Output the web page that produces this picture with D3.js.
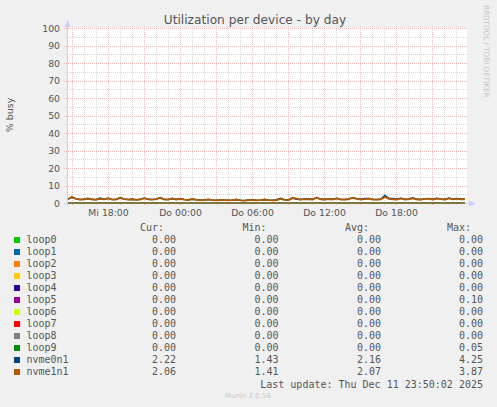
<!DOCTYPE html>
<html>
<head>
<meta charset="utf-8">
<script src="https://cdn.jsdelivr.net/npm/d3@7"></script>
<style>
html,body{margin:0;padding:0;background:#f0f0f0;}
svg{display:block;}
</style>
</head>
<body>
<svg id="chart" width="497" height="407"></svg>
<script>
// ---------- data ----------
const title = "Utilization per device - by day";
const yLabel = "% busy";
const seriesNames = ["loop0","loop1","loop2","loop3","loop4","loop5","loop6","loop7","loop8","loop9","nvme0n1","nvme1n1"];
const seriesColors = ["#00CC00","#0066B3","#FF8000","#FFCC00","#330099","#990099","#CCFF00","#FF0000","#808080","#008F00","#00487D","#B35A00"];
const loop0 = [0,0,0,0,0];
const loop1 = [0,0,0,0,0];
const loop2 = [0,0,0,0,0];
const loop3 = [0,0,0,0,0];
const loop4 = [0,0,0,0,0];
const loop5 = [0,0,0.1,0,0];
const loop6 = [0,0,0,0,0];
const loop7 = [0,0,0,0,0];
const loop8 = [0,0,0,0,0];
const loop9 = [0,0.05,0,0,0];
const nvme0n1 = [
 2.3,3.2,2.4,2.0,2.2,2.5,2.1,1.9,2.8,2.2,
 2.6,2.0,2.1,2.9,2.3,2.0,2.2,1.9,2.1,2.7,
 2.2,2.0,2.3,2.9,2.1,2.0,2.5,2.1,2.6,2.0,
 1.8,2.2,1.9,1.7,1.8,2.0,1.7,1.6,1.8,1.7,
 1.6,1.7,1.9,1.6,1.43,1.7,1.8,1.6,1.7,1.9,
 1.7,1.6,1.8,2.6,1.9,1.8,2.7,2.2,2.0,2.4,
 2.3,2.2,3.0,2.2,2.1,2.3,2.2,2.6,2.1,2.0,
 2.3,2.9,2.4,2.2,2.5,2.6,2.1,2.0,2.2,4.25,
 2.6,2.5,2.2,2.7,2.1,2.3,2.9,2.2,2.0,2.4,
 2.6,2.2,2.7,2.3,2.1,2.8,2.2,2.5,2.3,2.22];
const nvme1n1 = [
 2.2,3.6,2.3,1.9,2.1,2.6,2.0,1.9,2.3,2.1,
 2.7,1.9,2.0,3.0,2.2,1.9,2.1,1.8,2.0,2.8,
 2.1,1.9,2.2,3.0,2.0,1.9,2.6,2.0,2.4,1.9,
 1.7,2.3,1.8,1.6,1.7,2.1,1.6,1.5,1.7,1.6,
 1.5,1.6,2.0,1.5,1.41,1.6,1.7,1.5,1.6,2.0,
 1.6,1.5,1.7,2.3,1.8,1.7,3.0,2.5,1.9,2.2,
 2.1,2.0,3.1,2.1,2.0,2.2,2.0,2.8,2.0,1.9,
 2.2,3.0,2.3,2.0,2.2,2.5,2.0,1.9,2.1,3.4,
 2.4,2.1,2.0,2.6,2.0,2.2,2.7,2.0,1.9,2.3,
 2.4,2.0,2.5,2.2,2.0,2.6,2.1,2.3,2.1,2.06];
const seriesValues = [loop0,loop1,loop2,loop3,loop4,loop5,loop6,loop7,loop8,loop9,nvme0n1,nvme1n1];
const curVals = ["0.00","0.00","0.00","0.00","0.00","0.00","0.00","0.00","0.00","0.00","2.22","2.06"];
const minVals = ["0.00","0.00","0.00","0.00","0.00","0.00","0.00","0.00","0.00","0.00","1.43","1.41"];
const avgVals = ["0.00","0.00","0.00","0.00","0.00","0.00","0.00","0.00","0.00","0.00","2.16","2.07"];
const maxVals = ["0.00","0.00","0.00","0.00","0.00","0.10","0.00","0.00","0.00","0.05","4.25","3.87"];
const statHeaders = ["Cur:","Min:","Avg:","Max:"];
const xTickLabels = ["Mi 18:00","Do 00:00","Do 06:00","Do 12:00","Do 18:00"];
const yTickValues = [0,10,20,30,40,50,60,70,80,90,100];
const startTime = new Date(Date.UTC(2025,11,10,14,35));
const endTime = new Date(Date.UTC(2025,11,11,23,55));
const lastUpdate = "Last update: Thu Dec 11 23:50:02 2025";
const footer = "Munin 2.0.56";
const watermark = "RRDTOOL / TOBI OETIKER";

// ---------- drawing ----------
const svg = d3.select("#chart");
const L = 67, R = 467, T = 28, B = 203;
const x = d3.scaleUtc().domain([startTime, endTime]).range([L, R]);
const y = d3.scaleLinear().domain([0, 100]).range([B, T]);
const textCol = "#555";
const sans = "'DejaVu Sans', sans-serif";
const mono = "'DejaVu Sans Mono', monospace";
const minorCol = "#d4d4d4", majorCol = "#ebb8b8";

svg.append("rect").attr("width",497).attr("height",407).attr("fill","#f0f0f0");
svg.append("rect").attr("x",L).attr("y",T).attr("width",R-L).attr("height",B-T).attr("fill","#fff");

const grid = svg.append("g").attr("shape-rendering","crispEdges");
// minor horizontal (every 5)
d3.range(5,100,10).forEach(v=>{
  grid.append("line").attr("x1",L-2).attr("x2",R+1).attr("y1",Math.round(y(v))+0.5).attr("y2",Math.round(y(v))+0.5)
   .attr("stroke",minorCol).attr("stroke-dasharray","1,1");
});
// minor vertical (every hour)
x.ticks(d3.utcHour.every(1)).forEach(t=>{
  if (t.getUTCHours()%3===0) return;
  grid.append("line").attr("x1",Math.round(x(t))+0.5).attr("x2",Math.round(x(t))+0.5).attr("y1",T-2).attr("y2",B+2)
   .attr("stroke",minorCol).attr("stroke-dasharray","1,1");
});
// major vertical (every 3 hours)
x.ticks(d3.utcHour.every(3)).forEach(t=>{
  grid.append("line").attr("x1",Math.round(x(t))+0.5).attr("x2",Math.round(x(t))+0.5).attr("y1",T-2).attr("y2",B+3)
   .attr("stroke",majorCol).attr("stroke-dasharray","1,1");
});
// major horizontal (every 10)
yTickValues.forEach(v=>{
  if (v===0) return;
  grid.append("line").attr("x1",L-3).attr("x2",R+1).attr("y1",Math.round(y(v))+0.5).attr("y2",Math.round(y(v))+0.5)
   .attr("stroke",majorCol).attr("stroke-dasharray","1,1");
});

// y axis labels
const yAxis = d3.axisLeft(y).tickValues(yTickValues).tickSize(0).tickPadding(0).tickFormat(d3.format("d"));
const yg = svg.append("g").attr("transform",`translate(${L-7},0)`).call(yAxis);
yg.select(".domain").remove();
yg.selectAll("text").attr("fill",textCol).style("font-family",sans).style("font-size","9.3px").attr("dy","0.35em");

// x axis labels
const xTicks = x.ticks(d3.utcHour.every(6));
const xAxis = d3.axisBottom(x).tickValues(xTicks).tickSize(0).tickPadding(0).tickFormat((d,i)=>xTickLabels[i]);
const xg = svg.append("g").attr("transform",`translate(0,${B+10})`).call(xAxis);
xg.select(".domain").remove();
xg.selectAll("text").attr("fill",textCol).style("font-family",sans).style("font-size","9.3px").attr("dy","0.35em");

// axis lines and arrows
const axCol = "#ccccff";
svg.append("line").attr("x1",L+0.5).attr("x2",L+0.5).attr("y1",B+3).attr("y2",T-4).attr("stroke",axCol).attr("shape-rendering","crispEdges");
svg.append("line").attr("x1",L-3).attr("x2",R+4).attr("y1",B+0.5).attr("y2",B+0.5).attr("stroke",axCol).attr("shape-rendering","crispEdges");
svg.append("path").attr("d",`M${L-2.5},${T-1} L${L+3.5},${T-1} L${L+0.5},${T-8} Z`).attr("fill",axCol);
svg.append("path").attr("d",`M${R+2},${B-2.5} L${R+2},${B+3.5} L${R+9},${B+0.5} Z`).attr("fill",axCol);

// series lines
const plot = svg.append("g");
seriesValues.forEach((vals,i)=>{
  const t = d3.scaleLinear().domain([0, vals.length-1]).range([+startTime + 300000, +endTime - 600000]);
  const line = d3.line().x((d,j)=>x(new Date(t(j)))).y(d=>y(d));
  plot.append("path").datum(vals).attr("d",line).attr("fill","none")
    .attr("stroke",seriesColors[i]).attr("stroke-width", i===11 ? 1.8 : (i===10 ? 1.6 : 1))
    .attr("stroke-opacity", i>=10 ? 1 : 0.5);
});

// title
svg.append("text").attr("x",255).attr("y",24).attr("text-anchor","middle").attr("fill",textCol)
  .style("font-family",sans).style("font-size","12.2px").text(title);
// y label
svg.append("text").attr("transform","translate(13,115) rotate(-90)").attr("text-anchor","middle").attr("fill",textCol)
  .style("font-family",sans).style("font-size","9.5px").text(yLabel);
// watermark
svg.append("text").attr("transform","translate(484,5) rotate(90)").attr("text-anchor","start").attr("fill","#c4c4c4")
  .style("font-family",sans).style("font-size","7.2px").text(watermark);

// legend
const lg = svg.append("g").style("font-family",mono).style("font-size","10px").attr("fill",textCol);
const colRight = [176, 278.5, 381, 483];
statHeaders.forEach((h,k)=>{
  lg.append("text").attr("x",colRight[k]-12).attr("y",231).attr("text-anchor","end").text(h);
});
const stats = [curVals,minVals,avgVals,maxVals];
seriesNames.forEach((n,i)=>{
  const cy = 239.7 + i*12;
  svg.append("rect").attr("x",14).attr("y",Math.round(cy-3)).attr("width",6).attr("height",6).attr("fill",seriesColors[i]);
  lg.append("text").attr("x",26.5).attr("y",cy+3.6).text(n);
  stats.forEach((s,k)=>{
    lg.append("text").attr("x",colRight[k]).attr("y",cy+3.6).attr("text-anchor","end").text(s[i]);
  });
});
lg.append("text").attr("x",483).attr("y",387.5).attr("text-anchor","end").text(lastUpdate);
svg.append("text").attr("x",248).attr("y",398).attr("text-anchor","middle").attr("fill","#c8c8c8")
  .style("font-family",sans).style("font-size","7px").text(footer);
</script>
</body>
</html>
